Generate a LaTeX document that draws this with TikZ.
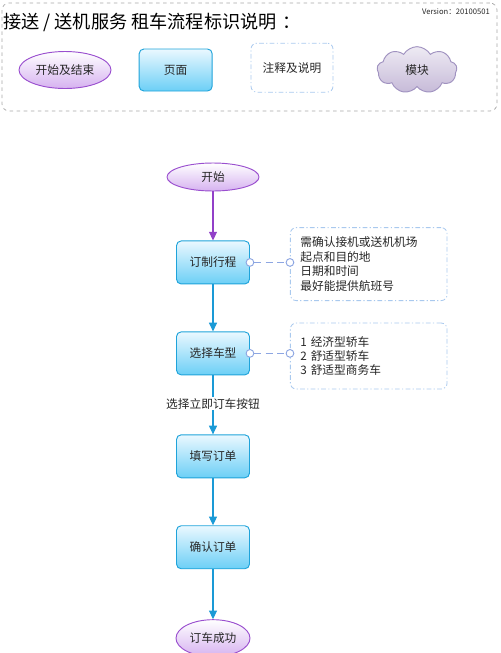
\documentclass[tikz,border=0pt]{standalone}
\usepackage{fontspec}
\setmainfont{Noto Sans CJK SC}
\usepackage{xcolor}
\definecolor{textDark}{HTML}{262626}
\definecolor{pageBorder}{HTML}{1FA3DA}
\definecolor{pageTop}{HTML}{EAF8FF}
\definecolor{pageBottom}{HTML}{6CCFF6}
\definecolor{termBorder}{HTML}{9A4FCF}
\definecolor{termBottom}{HTML}{D6B2F0}
\definecolor{arrowBlue}{HTML}{1A9AD6}
\definecolor{arrowPurple}{HTML}{9240C8}
\definecolor{noteBorder}{HTML}{A9C9EE}
\definecolor{linkBlue}{HTML}{8DA6E2}
\definecolor{cloudBorder}{HTML}{A092C0}
\definecolor{cloudBottom}{HTML}{C6BAD8}
\definecolor{frameGray}{HTML}{A8A8A8}
\usepackage{tikz}
\usetikzlibrary{shapes,arrows,positioning,calc,arrows.meta,shapes.misc,shapes.symbols}
\tikzset{%
  pageBox/.style={%
    rectangle,
    rounded corners=4pt,
    draw=pageBorder,
    line width=0.8pt,
    top color=pageTop,
    bottom color=pageBottom,
    minimum width=2.19cm,
    minimum height=1.29cm,
    align=center,
    text=textDark,
    font=\fontsize{10}{12}\selectfont
  },
  startEnd/.style={%
    ellipse,
    draw=termBorder,
    line width=0.8pt,
    top color=white,
    bottom color=termBottom,
    minimum width=2.76cm,
    minimum height=0.84cm,
    inner sep=0pt,
    align=center,
    text=textDark,
    font=\fontsize{10}{12}\selectfont
  },
  noteBox/.style={%
    rectangle,
    rounded corners=5pt,
    draw=noteBorder,
    line width=0.7pt,
    dash pattern=on 4pt off 2pt on 1pt off 2pt,
    align=left,
    text width=4.1cm,
    inner xsep=0.3cm,
    text=textDark,
    font=\fontsize{10}{12.3}\selectfont
  },
  moduleCloud/.style={%
    cloud,
    cloud puffs=9,
    cloud puff arc=120,
    aspect=1.7,
    draw=cloudBorder,
    line width=0.8pt,
    top color=white!70!cloudBottom,
    bottom color=cloudBottom,
    minimum width=2.4cm,
    minimum height=1.4cm,
    inner sep=0pt,
    text=textDark,
    font=\fontsize{10}{12}\selectfont
  },
  legendFrame/.style={%
    rectangle,
    rounded corners=6pt,
    draw=frameGray,
    dashed,
    line width=0.6pt,
    minimum width=14.85cm,
    minimum height=3.24cm
  },
  flowArrow/.style={%
    -{Triangle[length=2.6mm,width=2.4mm]},
    line width=0.9pt,
    draw=arrowBlue,
    color=arrowBlue
  },
  noteLink/.style={%
    {Circle[open,length=2.6mm,fill=white]}-{Circle[open,length=2.6mm,fill=white]},
    shorten <=-1.3mm,
    shorten >=-1.3mm,
    dash pattern=on 6pt off 4pt,
    line width=0.8pt,
    draw=linkBlue,
    color=linkBlue
  }
}

\begin{document}
\begin{tikzpicture}
            \useasboundingbox (0,0) rectangle (15,-19.59);

            % legend
            \node[legendFrame] (legend) at (7.485,-1.71) {};
            \node[anchor=west, text=black, font=\fontsize{15.5}{18}\selectfont, inner sep=0pt] (title) at (0.09,-0.68) {接送 / 送机服务 租车流程标识说明\hspace{0.3em}：};
            \node[anchor=east, text=textDark, font=\fontsize{6.5}{8}\selectfont, inner sep=0pt] (version) at (14.7,-0.36) {Version：20100501};
            \node[startEnd, minimum height=1.11cm] (keyTerm) at (1.95,-2.1) {开始及结束};
            \node[pageBox, minimum height=1.26cm] (keyPage) at (5.27,-2.1) {页面};
            \node[noteBox, text width={}, align=center, minimum width=2.46cm, minimum height=1.47cm, inner xsep=0pt] (keyNote) at (8.76,-2.03) {注释及说明};
            \node[moduleCloud] (keyModule) at (12.51,-2.1) {模块};

            % flow
            \node[startEnd] (start) at (6.39,-5.31) {开始};
            \node[pageBox, below=1.47cm of start] (plan) {订制行程};
            \node[pageBox, below=1.41cm of plan] (carType) {选择车型};
            \node[pageBox, below=1.77cm of carType] (fillOrder) {填写订单};
            \node[pageBox, below=1.41cm of fillOrder] (confirm) {确认订单};
            \node[startEnd, minimum width=2.22cm, minimum height=1.11cm, below=1.5cm of confirm] (done) {订车成功};

            \node[noteBox, minimum height=2.19cm, right=1.2cm of plan, yshift=-0.05cm] (planNote) {需确认接机或送机机场\\起点和目的地\\日期和时间\\最好能提供航班号};
            \node[noteBox, minimum height=1.98cm, right=1.2cm of carType, yshift=-0.08cm] (carNote) {1 经济型轿车\\2 舒适型轿车\\3 舒适型商务车};

            \draw[flowArrow, draw=arrowPurple, color=arrowPurple] (start) -- (plan);
            \draw[flowArrow] (plan) -- (carType);
            \draw[flowArrow] (carType) -- node[fill=white, text=textDark, font=\fontsize{10}{12}\selectfont, inner sep=1pt, pos=0.48] (btnLabel) {选择立即订车按钮} (fillOrder);
            \draw[flowArrow] (fillOrder) -- (confirm);
            \draw[flowArrow] (confirm) -- (done);

            \draw[noteLink] (plan.east) -- (plan.east -| planNote.west);
            \draw[noteLink] (carType.east) -- (carType.east -| carNote.west);
        \end{tikzpicture}
\end{document}
